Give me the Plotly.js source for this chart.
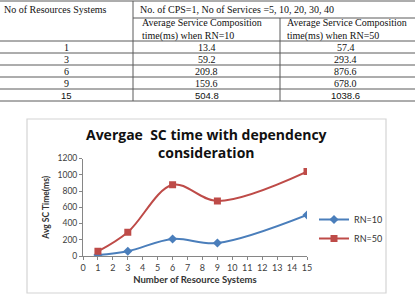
<!DOCTYPE html>
<html>
<head>
<meta charset="utf-8">
<script src="https://cdn.plot.ly/plotly-3.0.1.min.js"></script>
<style>html,body{margin:0;padding:0;background:#fff;}#chart{width:415px;height:297px;}</style>
</head>
<body>
<div id="chart"></div>
<script>
// ---- data ----
const resourceSystems = [1, 3, 6, 9, 15];
const rn10 = [13.4, 59.2, 209.8, 159.6, 504.8];
const rn50 = [57.4, 293.4, 876.6, 678.0, 1038.6];
const seriesNames = ['RN=10', 'RN=50'];
const tableHeaderCol1 = 'No of Resources Systems';
const tableHeaderTop = 'No. of CPS=1, No of Services =5, 10, 20, 30, 40';
const tableHeaderRN10 = 'Average Service Composition<br>time(ms) when RN=10';
const tableHeaderRN50 = 'Average Service Composition<br>time(ms) when RN=50';
const chartTitle = '<b>Avergae&nbsp;&nbsp;SC time with dependency<br>consideration</b>';
const xTitle = 'Number of Resource Systems';
const yTitle = 'Avg SC Time(ms)';

// ---- table geometry (pixel-space hidden axes) ----
const W = 415, H = 297;
const colX = [0, 133, 280, 415];
const rowY = [1, 18, 41, 53, 65, 77, 89, 101];
const lineColor = '#5a5a5a';
const serif = 'Liberation Serif, Times New Roman, serif';
const sans = 'Liberation Sans, Arial, sans-serif';
const chartFont = 'Lato, Open Sans, sans-serif';
const titleFont = 'Open Sans, Lato, sans-serif';

const shapes = [];
function hl(y, x0, x1) { shapes.push({type:'line', xref:'x2', yref:'y2', x0:x0, x1:x1, y0:y, y1:y, line:{color:lineColor, width:1}}); }
function vl(x, y0, y1) { shapes.push({type:'line', xref:'x2', yref:'y2', x0:x, x1:x, y0:y0, y1:y1, line:{color:lineColor, width:1}}); }
hl(rowY[0], colX[0], colX[3]);
hl(rowY[1], colX[1], colX[3]);
for (let i = 2; i < rowY.length; i++) hl(rowY[i], colX[0], colX[3]);
vl(colX[1], rowY[0], rowY[7]);
vl(colX[2], rowY[1], rowY[7]);
// chart frame
shapes.push({type:'rect', xref:'x2', yref:'y2', x0:27, x1:386, y0:119, y1:293, line:{color:'#d4d4d4', width:1.2}, layer:'below'});

const annotations = [];
function txt(text, x, y, xanchor, font, size) {
  annotations.push({xref:'x2', yref:'y2', x:x, y:y, text:text, showarrow:false, xanchor:xanchor, yanchor:'middle',
    font:{family:font, size:size, color:'#111'}, align:'left', borderpad:0});
}
const ts = 10;
txt(tableHeaderCol1, 3, 9.5, 'left', serif, ts);
txt(tableHeaderTop, 139, 9.5, 'left', serif, ts);
txt(tableHeaderRN10, 141, 29.5, 'left', serif, ts);
txt(tableHeaderRN50, 286, 29.5, 'left', serif, ts);
for (let i = 0; i < resourceSystems.length; i++) {
  const yc = (rowY[i + 2] + rowY[i + 3]) / 2;
  const last = (i === resourceSystems.length - 1);
  const f = last ? sans : serif;
  const s = last ? 9.5 : ts;
  txt(String(resourceSystems[i]), (colX[0] + colX[1]) / 2, yc, 'center', f, s);
  txt(rn10[i].toFixed(1), (colX[1] + colX[2]) / 2, yc, 'center', f, s);
  txt(rn50[i].toFixed(1), (colX[2] + colX[3]) / 2 - 2, yc, 'center', f, s);
}
// chart title
annotations.push({xref:'x2', yref:'y2', x:206, y:143.5, text:chartTitle, showarrow:false, xanchor:'center', yanchor:'middle',
  font:{family:titleFont, size:14, color:'#111'}, borderpad:0});

const traces = [
  {x: resourceSystems, y: rn10, name: seriesNames[0], type:'scatter', mode:'lines+markers',
   line:{color:'#4a7ebb', width:2, shape:'spline', smoothing:1}, marker:{symbol:'diamond', size:7, color:'#4a7ebb'}},
  {x: resourceSystems, y: rn50, name: seriesNames[1], type:'scatter', mode:'lines+markers',
   line:{color:'#be4b48', width:2, shape:'spline', smoothing:1}, marker:{symbol:'square', size:7, color:'#be4b48'}},
  {x: [], y: [], xaxis:'x2', yaxis:'y2', showlegend:false, hoverinfo:'skip', type:'scatter'}
];

const axisCommon = {showgrid:false, zeroline:false, showline:true, linecolor:'#868686', linewidth:1,
  ticks:'outside', ticklen:3, tickcolor:'#868686', tickfont:{family:chartFont, size:9, color:'#404040'}};

const layout = {
  width: W, height: H, margin:{l:0, r:0, t:0, b:0}, paper_bgcolor:'#fff', plot_bgcolor:'rgba(0,0,0,0)',
  showlegend: true,
  legend:{x:314/W, y:1 - 205/H, xanchor:'left', yanchor:'top', font:{family:chartFont, size:9, color:'#333'},
    bgcolor:'rgba(0,0,0,0)', tracegroupgap:0, itemwidth:30},
  xaxis: Object.assign({}, axisCommon, {domain:[83/W, 307/W], range:[0, 15], dtick:1, tick0:0, anchor:'y',
    title:{text:'<b>' + xTitle + '</b>', font:{family:chartFont, size:9.5, color:'#333'}, standoff:4}}),
  yaxis: Object.assign({}, axisCommon, {domain:[(H - 256)/H, (H - 158.5)/H], range:[0, 1200], dtick:200, anchor:'x',
    tickfont:{family:chartFont, size:8.5, color:'#404040'},
    title:{text:'<b>' + yTitle + '</b>', font:{family:chartFont, size:8.5, color:'#333'}, standoff:6}}),
  xaxis2:{domain:[0, 1], range:[0, W], visible:false, anchor:'y2', fixedrange:true},
  yaxis2:{domain:[0, 1], range:[H, 0], visible:false, anchor:'x2', fixedrange:true},
  shapes: shapes,
  annotations: annotations
};

Plotly.newPlot('chart', traces, layout, {staticPlot:true, displayModeBar:false});
</script>
</body>
</html>
